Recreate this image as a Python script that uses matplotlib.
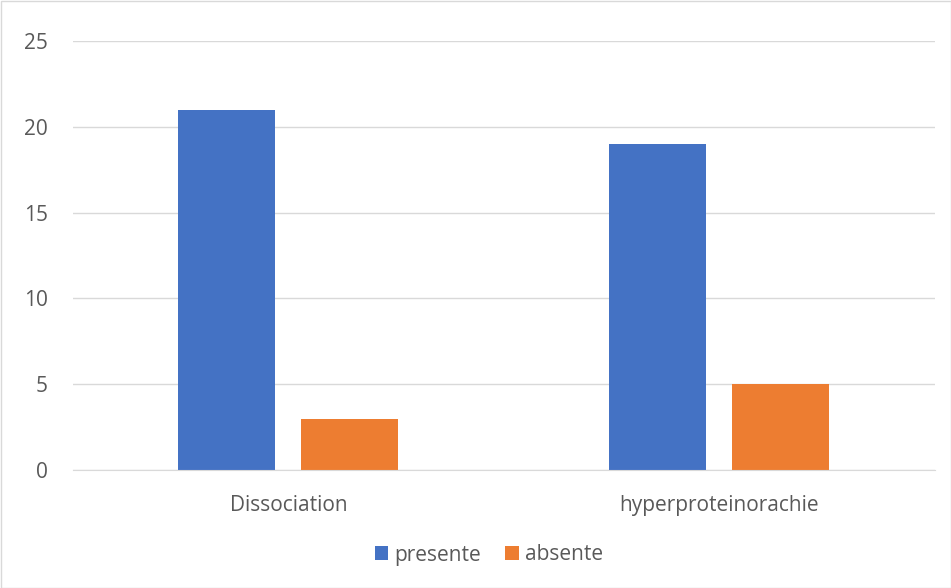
import matplotlib
matplotlib.use("Agg")
import matplotlib.pyplot as plt
import numpy as np
from matplotlib.patches import Rectangle

categories = ["Dissociation", "hyperproteinorachie"]
series_names = ["presente", "absente"]
presente = [21, 19]
absente = [3, 5]
y_ticks = [0, 5, 10, 15, 20, 25]

blue = "#4472C4"
orange = "#ED7D31"
text_col = "#595959"

plt.rcParams["font.family"] = ["Open Sans", "DejaVu Sans"]

fig = plt.figure(figsize=(9.51, 5.88), dpi=100)
ax = fig.add_axes([73 / 951, 118 / 588, 862 / 951, 429 / 588])

x = np.arange(len(categories))
width = 0.225
ax.bar(x - 0.144, presente, width, color=blue, label=series_names[0], zorder=3)
ax.bar(x + 0.141, absente, width, color=orange, label=series_names[1], zorder=3)

ax.set_xlim(-0.5, 1.5)
ax.set_ylim(0, 25)
ax.set_yticks(y_ticks)
ax.set_xticks(x)
ax.set_xticklabels(categories)
ax.yaxis.grid(True, color="#D9D9D9", linewidth=1, zorder=0)
ax.tick_params(axis="both", length=0, labelsize=15, colors=text_col)
ax.tick_params(axis="y", pad=18)
ax.tick_params(axis="x", pad=18)
for side in ["top", "right", "left"]:
    ax.spines[side].set_visible(False)
ax.spines["bottom"].set_color("#D9D9D9")
ax.spines["bottom"].set_zorder(4)

leg = fig.legend(loc="center", bbox_to_anchor=(489 / 951, (588 - 555) / 588), ncol=2,
                 frameon=False, fontsize=15, handlelength=0.66, handleheight=0.66,
                 handletextpad=0.3, columnspacing=1.15)
for t in leg.get_texts():
    t.set_color(text_col)

fig.patches.append(Rectangle((0.5 / 951, 0.5 / 588), 1 - 1 / 951, 1 - 1 / 588,
                             transform=fig.transFigure, fill=False,
                             edgecolor="#D9D9D9", linewidth=1))

fig.savefig("out.png", dpi=100)
